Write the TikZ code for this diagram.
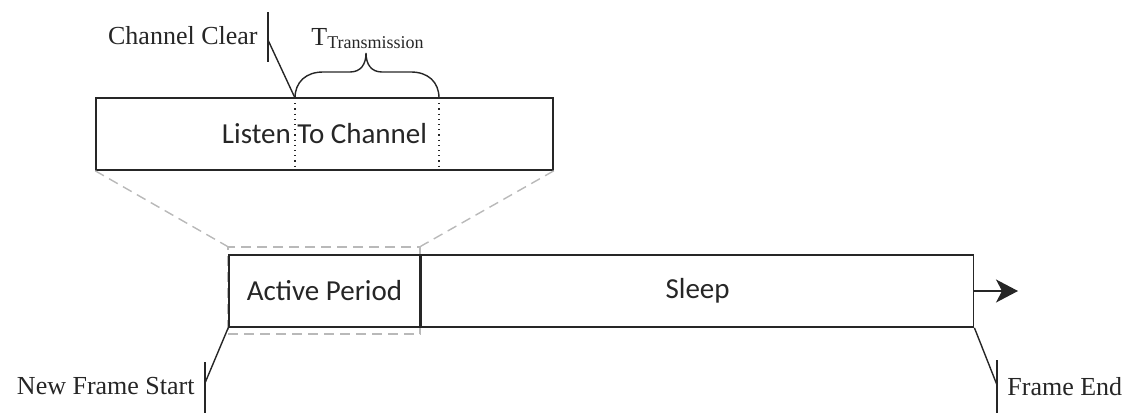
\documentclass[tikz,border=0pt]{standalone}
\usepackage{fontspec}
\setmainfont{Liberation Serif}
\newfontfamily\boxfont{Carlito}
\usetikzlibrary{arrows.meta}
\tikzset{
  phase/.style={draw=black!85, line width=0.8pt, inner sep=0pt, minimum height=36pt,
    font=\boxfont\fontsize{14.5}{16}\selectfont, text=black!85},
  zoomline/.style={draw=gray!55, dash pattern=on 5pt off 3pt, line width=0.7pt},
  marker/.style={draw=black!85, line width=0.7pt},
  lbl/.style={font=\fontsize{13}{15}\selectfont, inner sep=0pt, text=black!85}
}
\begin{document}
\begin{tikzpicture}[x=0.5pt,y=-0.5pt]
\useasboundingbox (0,0) rectangle (1129,413);
% zoomed part of the frame
\node[zoomline, minimum width=96pt, minimum height=43.5pt] (zoom) at (324,290.5) {};
\node[phase, minimum width=95.5pt] (active) at (324.5,291) {Active Period};
\node[phase, minimum width=276pt, anchor=west] (sleep) at (active.east) {Sleep};
\node[phase, minimum width=228.5pt] (listen) at (324.5,134) {Listen To Channel};
\draw[zoomline] (listen.south west) -- (zoom.north west);
\draw[zoomline] (listen.south east) -- (zoom.north east);
% transmission window
\coordinate (ctop) at (295,98);
\coordinate (cbot) at (295,170);
\coordinate (ttop) at (439,98);
\coordinate (tbot) at (439,170);
\draw[black!85, dotted, line width=0.6pt] (ctop) -- (cbot);
\draw[black!85, dotted, line width=0.6pt] (ttop) -- (tbot);
\draw[marker] (ctop) .. controls (295,82) and (306,72) .. (323,72) -- (350,72)
  .. controls (361,72) and (366,64) .. (366,53) .. controls (366,64) and (371,72) .. (382,72) -- (411,72)
  .. controls (428,72) and (439,82) .. (ttop);
\node[lbl, anchor=base west, font=\fontsize{13}{15}\selectfont] (tx) at (311,45)
  {T\raisebox{-1.75pt}{\fontsize{9}{10}\selectfont Transmission}};
% channel clear
\coordinate (cc) at (268,40);
\draw[marker] (cc) ++(0,-28) -- ++(0,50);
\draw[marker] (cc) -- (ctop);
\node[lbl, anchor=base east] (cclbl) at (258,44) {Channel Clear};
% frame start and end
\coordinate (nfs) at (205,383);
\draw[marker] (active.south west) -- (nfs);
\draw[marker] (nfs) ++(0,-21) -- (205,413);
\node[lbl, anchor=base east] (nfslbl) at (195,394) {New Frame Start};
\coordinate (fe) at (997,385);
\draw[marker] (sleep.south east) -- (fe);
\draw[marker] (fe) ++(0,-25) -- (997,413);
\node[lbl, anchor=base west] (felbl) at (1007,395) {Frame End};
\coordinate (next) at (1018,291);
\draw[marker, -{Stealth[length=11pt, width=11.5pt, inset=3pt]}] (sleep.east) -- (next);
\end{tikzpicture}
\end{document}
